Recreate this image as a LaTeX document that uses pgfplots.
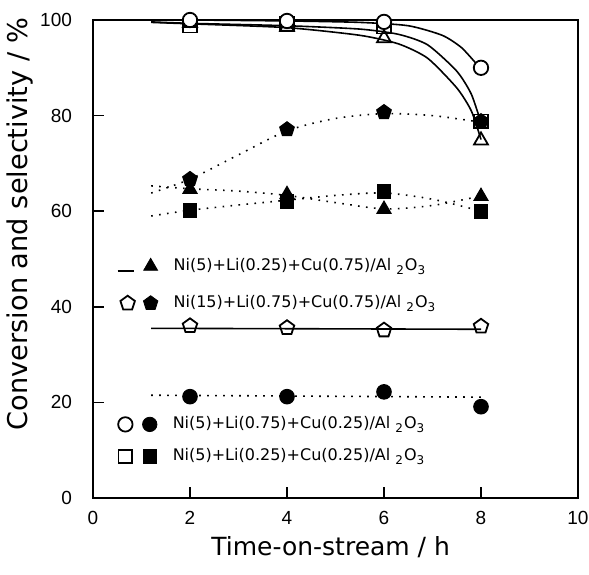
\documentclass[border=0pt]{standalone}
\usepackage{fontspec}
\setmainfont{DejaVu Sans}
\newfontfamily\tickfont{Liberation Sans}
\usepackage{pgfplots}
\pgfplotsset{compat=1.18}
\usetikzlibrary{plotmarks}

\pgfplotsset{
  base/.style={
    width=242.5pt, height=239pt, scale only axis,
    xmin=0, xmax=10, ymin=0, ymax=100,
  },
  conv/.style={smooth, tension=0.4, line width=0.8pt, black, forget plot},
  dots/.style={smooth, line width=0.8pt, black, dash pattern=on 0.8pt off 3.2pt, forget plot},
  omark/.style={only marks, forget plot, mark=#1, mark options={solid, fill=white, line width=0.9pt}},
  fmark/.style={only marks, forget plot, mark=#1, mark options={solid, fill=black, line width=0.6pt}},
}
\newcommand{\cat}{Al\ \textsubscript{2}O\textsubscript{3}}

\begin{document}
\begin{tikzpicture}
\begin{axis}[
  base, clip=false,
  xtick={0,2,...,10}, ytick={0,20,...,100},
  tick align=inside, xtick pos=left, ytick pos=left,
  major tick length=5.5pt,
  axis line style={line width=1pt},
  tick style={line width=0.9pt, black},
  ticklabel style={font=\tickfont\fontsize{9.5}{10}\selectfont},
  /pgf/number format/assume math mode=true,
  xticklabel style={yshift=-3pt},
  yticklabel style={xshift=-7pt},
  xlabel={Time-on-stream / h},
  ylabel={Conversion and selectivity / \%},
  xlabel style={font=\fontsize{12.5}{14}\selectfont, at={(axis description cs:0.49,-0.121)}, anchor=base},
  ylabel style={font=\fontsize{13.6}{15}\selectfont, at={(axis description cs:-0.150,0.573)}, anchor=center},
  legend cell align=left,
  legend style={draw=none, fill=none, inner sep=0pt, outer sep=0pt, row sep=10.5pt,
    at={(axis cs:0.49,44.6)}, anchor=west, font=\fontsize{8}{9}\selectfont,
    nodes={inner sep=0pt}},
]
\coordinate (SW) at (rel axis cs:0,0);

% conversion curves
\addplot[conv] coordinates {(1.2,100) (2,100) (4,99.8) (5.5,99.5) (6.5,98.8) (7.2,96.8) (7.6,94.2) (7.95,90.3)};
\addplot[conv] coordinates {(1.2,99.6) (2,99.3) (4,98.8) (5.5,98.1) (6.3,97.0) (6.9,94.8) (7.5,89.3) (7.8,84.5) (8,78.5)};
\addplot[conv] coordinates {(1.2,99.5) (2,99.2) (4,98.4) (5.5,96.8) (6.3,95.0) (6.9,92.0) (7.5,85.8) (7.8,81.0) (8,75.0)};
\addplot[conv] coordinates {(1.2,35.5) (4.6,35.4) (8,35.3)};

% selectivity curves
\addplot[dots] coordinates {(1.2,63.8) (2,66.7) (3,71.8) (4,76.8) (5,79.4) (6,80.4) (7,80.0) (8,78.6)};
\addplot[dots] coordinates {(1.2,65.3) (2,64.7) (3,64.2) (4,63.3) (5,61.8) (6,60.5) (7,61.2) (8,63.2)};
\addplot[dots] coordinates {(1.2,59.0) (2,60.2) (3,61.3) (4,62.3) (5,63.3) (6,63.8) (7,62.5) (8,60.0)};
\addplot[dots] coordinates {(1.2,21.5) (4.6,21.3) (8,21.1)};

% Ni(5)+Li(0.25)+Cu(0.75)
\addplot[omark=triangle, mark size=4pt] coordinates {(2,99.4) (4,98.6) (6,96.2) (8,74.8)};
% Ni(5)+Li(0.25)+Cu(0.25)
\addplot[omark=square, mark size=3.4pt] coordinates {(2,98.8) (4,99.2) (6,98.6) (8,78.8)};
% Ni(5)+Li(0.75)+Cu(0.25)
\addplot[omark=*, mark size=3.6pt] coordinates {(2,100) (4,99.8) (6,99.6) (8,90.0)};
% Ni(15)+Li(0.75)+Cu(0.75)
\addplot[omark=pentagon, mark size=3.8pt] coordinates {(2,36.0) (4,35.6) (6,35.1) (8,35.9)};

\addplot[fmark=pentagon*, mark size=3.8pt] coordinates {(2,66.7) (4,77.1) (6,80.7) (8,78.8)};
\addplot[fmark=triangle*, mark size=4pt] coordinates {(2,64.6) (4,63.5) (6,60.4) (8,63.1)};
\addplot[fmark=square*, mark size=3.4pt] coordinates {(2,60.2) (4,62.1) (6,64.2) (8,60.0)};
\addplot[fmark=*, mark size=3.6pt] coordinates {(2,21.2) (4,21.2) (6,22.2) (8,19.1)};

\addlegendimage{legend image code/.code={
  \path[draw=none, fill=none] (-0.5pt,-4pt) rectangle (27.5pt,4pt);
  \draw[solid, line width=0.9pt] (-0.5pt,-2.5pt) -- (7.5pt,-2.5pt);
  \draw plot[only marks, mark=triangle*, mark size=4pt, mark options={fill=black}] coordinates {(16pt,0pt)};}}
\addlegendentry{Ni(5)+Li(0.25)+Cu(0.75)/\cat}
\addlegendimage{legend image code/.code={
  \path[draw=none, fill=none] (-0.5pt,-4pt) rectangle (27.5pt,4pt);
  \draw plot[only marks, mark=pentagon, mark size=3.8pt, mark options={fill=white, line width=0.9pt}] coordinates {(4.5pt,0pt)};
  \draw plot[only marks, mark=pentagon*, mark size=3.8pt, mark options={fill=black}] coordinates {(16pt,0pt)};}}
\addlegendentry{Ni(15)+Li(0.75)+Cu(0.75)/\cat}
\end{axis}

\begin{axis}[
  base, hide axis,
  legend cell align=left,
  legend style={draw=none, fill=none, inner sep=0pt, outer sep=0pt, row sep=8pt,
    at={(axis cs:0.49,12.05)}, anchor=west, font=\fontsize{8}{9}\selectfont,
    nodes={inner sep=0pt}},
]
\addlegendimage{legend image code/.code={
  \path[draw=none, fill=none] (-0.5pt,-4pt) rectangle (27.5pt,4pt);
  \draw plot[only marks, mark=*, mark size=3.6pt, mark options={fill=white, line width=0.9pt}] coordinates {(3.8pt,0pt)};
  \draw plot[only marks, mark=*, mark size=3.6pt, mark options={fill=black}] coordinates {(16pt,0pt)};}}
\addlegendentry{Ni(5)+Li(0.75)+Cu(0.25)/\cat}
\addlegendimage{legend image code/.code={
  \path[draw=none, fill=none] (-0.5pt,-4pt) rectangle (27.5pt,4pt);
  \draw plot[only marks, mark=square, mark size=3.4pt, mark options={fill=white, line width=0.9pt}] coordinates {(3.8pt,0pt)};
  \draw plot[only marks, mark=square*, mark size=3.4pt, mark options={fill=black}] coordinates {(16pt,0pt)};}}
\addlegendentry{Ni(5)+Li(0.25)+Cu(0.25)/\cat}
\end{axis}

\pgfresetboundingbox
\path ([shift={(-46.5pt,-38pt)}]SW) rectangle ([shift={(248pt,249pt)}]SW);
\end{tikzpicture}
\end{document}
